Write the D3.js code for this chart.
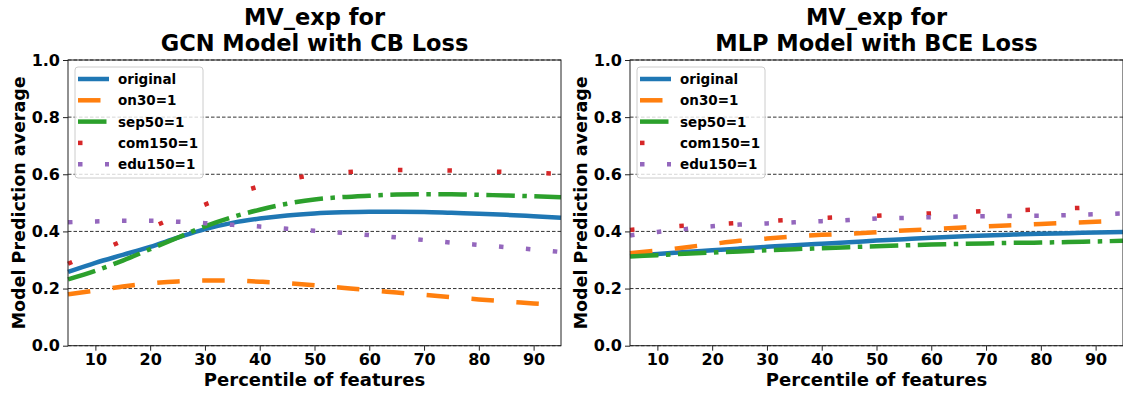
<!DOCTYPE html>
<html>
<head>
<meta charset="utf-8">
<script src="https://cdn.jsdelivr.net/npm/d3@7"></script>
<style>
  body { margin: 0; background: #fff; }
  text { font-family: "DejaVu Sans", sans-serif; font-weight: bold; }
</style>
</head>
<body>
<script>
// percentiles sampled along the x axis
const percentiles = [5, 10, 15, 20, 25, 30, 35, 40, 45, 50, 55, 60, 65, 70, 75, 80, 85, 90, 95];
const seriesNames = ["original", "on30=1", "sep50=1", "com150=1", "edu150=1"];
const xTicks = [10, 20, 30, 40, 50, 60, 70, 80, 90];
const yTicks = [0, 0.2, 0.4, 0.6, 0.8, 1.0];

// GCN Model with CB Loss
const gcnOriginal = [0.258, 0.290, 0.318, 0.346, 0.378, 0.408, 0.430, 0.445, 0.456, 0.463, 0.467, 0.469, 0.469, 0.468, 0.465, 0.462, 0.458, 0.453, 0.448];
const gcnOn30 = [0.180, 0.193, 0.207, 0.218, 0.225, 0.228, 0.228, 0.224, 0.219, 0.212, 0.203, 0.194, 0.186, 0.178, 0.170, 0.162, 0.155, 0.148, 0.141];
const gcnSep50 = [0.232, 0.262, 0.298, 0.338, 0.378, 0.418, 0.450, 0.476, 0.497, 0.512, 0.520, 0.525, 0.529, 0.530, 0.530, 0.528, 0.526, 0.523, 0.520];
const gcnCom150 = [0.287, 0.327, 0.367, 0.412, 0.453, 0.494, 0.528, 0.558, 0.581, 0.598, 0.606, 0.612, 0.615, 0.614, 0.613, 0.611, 0.608, 0.605, 0.602];
const gcnEdu150 = [0.432, 0.435, 0.437, 0.437, 0.434, 0.429, 0.423, 0.417, 0.409, 0.402, 0.395, 0.387, 0.379, 0.370, 0.361, 0.353, 0.345, 0.337, 0.328];

// MLP Model with BCE Loss
const mlpOriginal = [0.315, 0.321, 0.328, 0.334, 0.340, 0.346, 0.352, 0.357, 0.362, 0.368, 0.373, 0.378, 0.382, 0.386, 0.389, 0.392, 0.394, 0.396, 0.398];
const mlpOn30 = [0.324, 0.333, 0.344, 0.356, 0.367, 0.375, 0.382, 0.388, 0.392, 0.397, 0.403, 0.408, 0.413, 0.418, 0.422, 0.426, 0.430, 0.434, 0.437];
const mlpSep50 = [0.312, 0.317, 0.322, 0.326, 0.330, 0.334, 0.338, 0.341, 0.345, 0.348, 0.351, 0.354, 0.356, 0.358, 0.360, 0.361, 0.363, 0.365, 0.367];
const mlpCom150 = [0.405, 0.413, 0.420, 0.425, 0.430, 0.436, 0.441, 0.447, 0.451, 0.455, 0.459, 0.463, 0.467, 0.471, 0.474, 0.477, 0.481, 0.484, 0.486];
const mlpEdu150 = [0.386, 0.398, 0.408, 0.418, 0.424, 0.428, 0.432, 0.436, 0.440, 0.445, 0.447, 0.450, 0.452, 0.453, 0.454, 0.455, 0.457, 0.460, 0.463];

var w = 1123, h = 396;
var colors = ["#1f77b4", "#ff7f0e", "#2ca02c", "#d62728", "#9467bd"];
var dashes = [null, "22.5 22.5", "28.5 7.5 4.5 7.5", "4.5 45", "4.5 22.5"];

var svg = d3.select("body")
    .append("svg")
    .attr("width", w)
    .attr("height", h);

function panel(left, right, titleLines, values) {
    var top = 60, bottom = 345.7;
    var xScale = d3.scaleLinear().domain([5, 95]).range([left, right]);
    var yScale = d3.scaleLinear().domain([0, 1]).range([bottom, top]);
    var g = svg.append("g");

    // grid
    g.selectAll("line.grid")
        .data(yTicks)
        .enter()
        .append("line")
        .attr("x1", left).attr("x2", right)
        .attr("y1", function (d) { return yScale(d); })
        .attr("y2", function (d) { return yScale(d); })
        .attr("stroke", "#333")
        .attr("stroke-width", 1)
        .attr("stroke-dasharray", "3.5 2");

    // lines
    var line = d3.line()
        .x(function (d) { return xScale(d[0]); })
        .y(function (d) { return yScale(d[1]); })
        .curve(d3.curveMonotoneX);
    values.forEach(function (vals, i) {
        g.append("path")
            .attr("d", line(percentiles.map(function (p, j) { return [p, vals[j]]; })))
            .attr("fill", "none")
            .attr("stroke", colors[i])
            .attr("stroke-width", 4.5)
            .attr("stroke-dasharray", dashes[i]);
    });

    // frame
    g.append("rect")
        .attr("x", left).attr("y", top)
        .attr("width", right - left).attr("height", bottom - top)
        .attr("fill", "none")
        .attr("stroke", "#222")
        .attr("stroke-width", 1);

    var xAxis = g.append("g")
        .attr("transform", "translate(0," + bottom + ")")
        .call(d3.axisBottom(xScale).tickValues(xTicks).tickSize(5).tickPadding(3));
    var yAxis = g.append("g")
        .attr("transform", "translate(" + left + ",0)")
        .call(d3.axisLeft(yScale).tickValues(yTicks).tickSize(5).tickPadding(3)
            .tickFormat(d3.format(".1f")));
    [xAxis, yAxis].forEach(function (a) {
        a.select(".domain").remove();
        a.selectAll("text").attr("font-size", "16px").attr("font-family", "DejaVu Sans")
            .attr("font-weight", "bold").attr("fill", "#000");
        a.selectAll("line").attr("stroke", "#222");
    });

    // titles and labels
    var cx = (left + right) / 2;
    titleLines.forEach(function (t, i) {
        g.append("text")
            .attr("x", cx).attr("y", 25 + i * 25.7)
            .attr("text-anchor", "middle")
            .attr("font-size", "22.5px")
            .text(t);
    });
    g.append("text")
        .attr("x", cx).attr("y", 385.5)
        .attr("text-anchor", "middle")
        .attr("font-size", "18px")
        .text("Percentile of features");
    g.append("text")
        .attr("transform", "translate(" + (left - 43.5) + "," + ((top + bottom) / 2) + ") rotate(-90)")
        .attr("text-anchor", "middle")
        .attr("font-size", "17.5px")
        .text("Model Prediction average");

    // legend
    var lg = g.append("g").attr("transform", "translate(" + (left + 7) + ",67)");
    lg.append("rect")
        .attr("width", 128).attr("height", 111)
        .attr("rx", 3)
        .attr("fill", "#fff").attr("fill-opacity", 0.8)
        .attr("stroke", "#ccc");
    seriesNames.forEach(function (name, i) {
        var y = 12 + i * 21.3;
        lg.append("line")
            .attr("x1", 3).attr("x2", 34)
            .attr("y1", y).attr("y2", y)
            .attr("stroke", colors[i])
            .attr("stroke-width", 4.5)
            .attr("stroke-dasharray", dashes[i]);
        lg.append("text")
            .attr("x", 43).attr("y", y + 5)
            .attr("font-size", "13.5px")
            .text(name);
    });
}

panel(68, 561, ["MV_exp for", "GCN Model with CB Loss"], [gcnOriginal, gcnOn30, gcnSep50, gcnCom150, gcnEdu150]);
panel(630, 1123, ["MV_exp for", "MLP Model with BCE Loss"], [mlpOriginal, mlpOn30, mlpSep50, mlpCom150, mlpEdu150]);
</script>
</body>
</html>
